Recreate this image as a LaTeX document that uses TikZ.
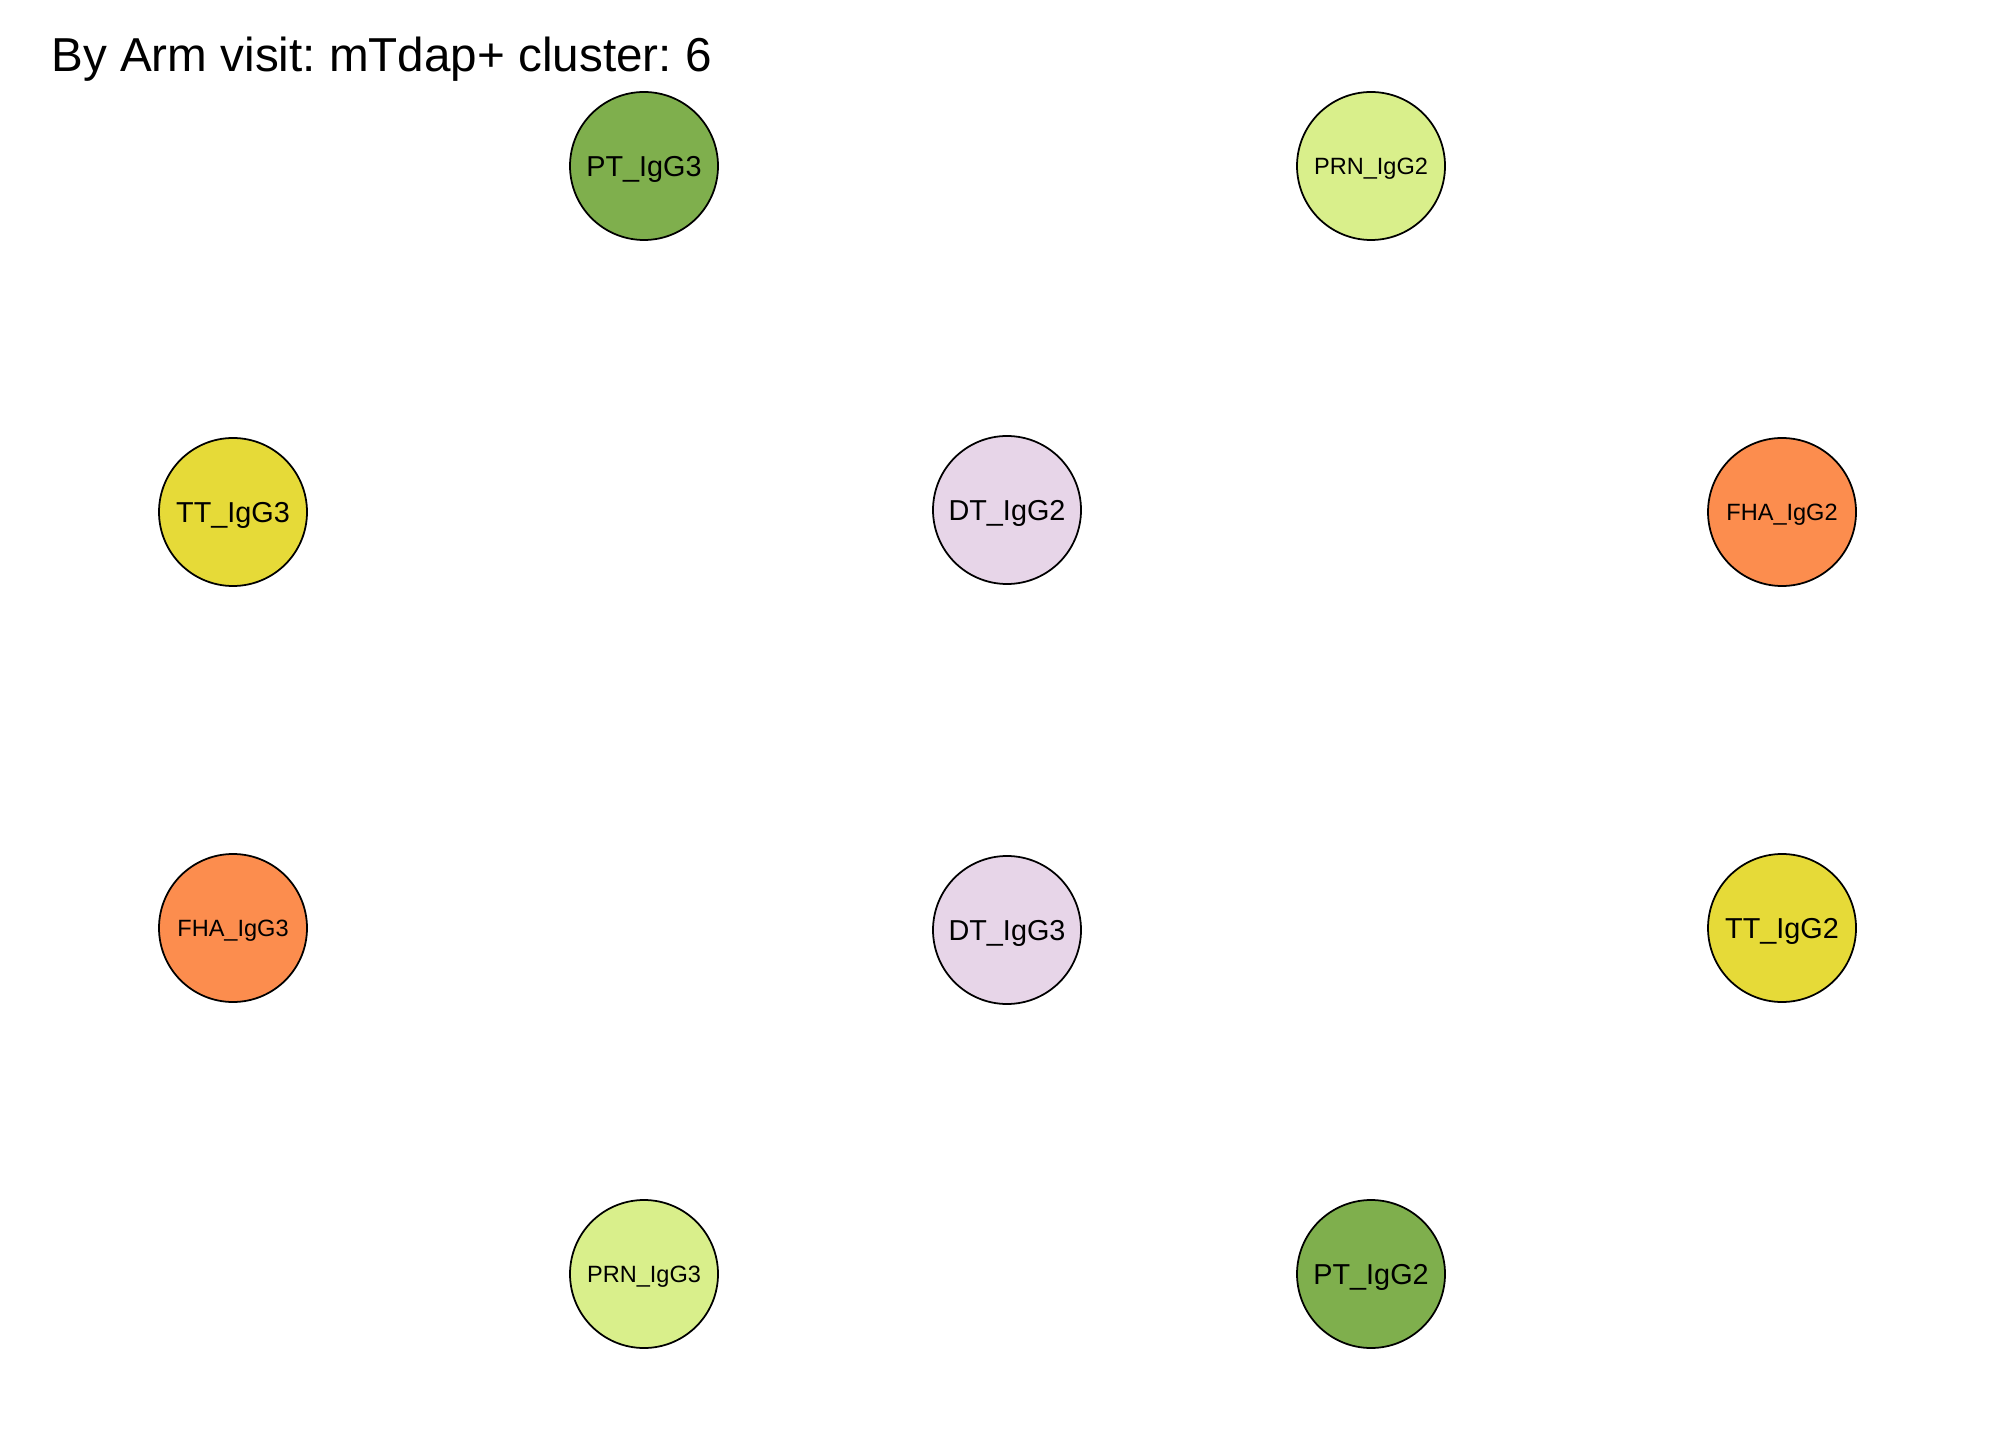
\documentclass[tikz,border=0pt]{standalone}
\usepackage{fontspec}
\setmainfont{Liberation Sans}
\frenchspacing
\definecolor{ptgreen}{RGB}{127,175,77}
\definecolor{prnlime}{RGB}{217,239,139}
\definecolor{ttyellow}{RGB}{230,218,56}
\definecolor{dtlilac}{RGB}{231,213,232}
\definecolor{fhaorange}{RGB}{252,141,78}
\def\bigLabel{\fontsize{8.2pt}{9pt}\selectfont}
\def\smallLabel{\fontsize{6.7pt}{8pt}\selectfont}
\tikzset{
    antigen/.style={circle, draw=black, line width=0.5pt, minimum size=1.48cm, inner sep=0pt, text depth=0pt},
}
\begin{document}
\begin{tikzpicture}
\useasboundingbox (0,0) rectangle (20.16,14.4);
\node [anchor=west, font=\fontsize{13.55pt}{16pt}\selectfont] (title) at (0.39,13.81) {By Arm visit: mTdap+ cluster: 6};
% top row
\node [antigen, fill=ptgreen, font=\bigLabel] (ptthree) at (6.44,12.74) {PT\_IgG3};
\node [antigen, fill=prnlime, font=\smallLabel] (prntwo) at (13.71,12.74) {PRN\_IgG2};
% second row
\node [antigen, fill=ttyellow, font=\bigLabel] (ttthree) at (2.33,9.28) {TT\_IgG3};
\node [antigen, fill=dtlilac, font=\bigLabel] (dttwo) at (10.07,9.30) {DT\_IgG2};
\node [antigen, fill=fhaorange, font=\smallLabel] (fhatwo) at (17.82,9.28) {FHA\_IgG2};
% third row
\node [antigen, fill=fhaorange, font=\smallLabel] (fhathree) at (2.33,5.12) {FHA\_IgG3};
\node [antigen, fill=dtlilac, font=\bigLabel] (dtthree) at (10.07,5.10) {DT\_IgG3};
\node [antigen, fill=ttyellow, font=\bigLabel] (tttwo) at (17.82,5.12) {TT\_IgG2};
% bottom row
\node [antigen, fill=prnlime, font=\smallLabel] (prnthree) at (6.44,1.66) {PRN\_IgG3};
\node [antigen, fill=ptgreen, font=\bigLabel] (pttwo) at (13.71,1.66) {PT\_IgG2};
\end{tikzpicture}
\end{document}
